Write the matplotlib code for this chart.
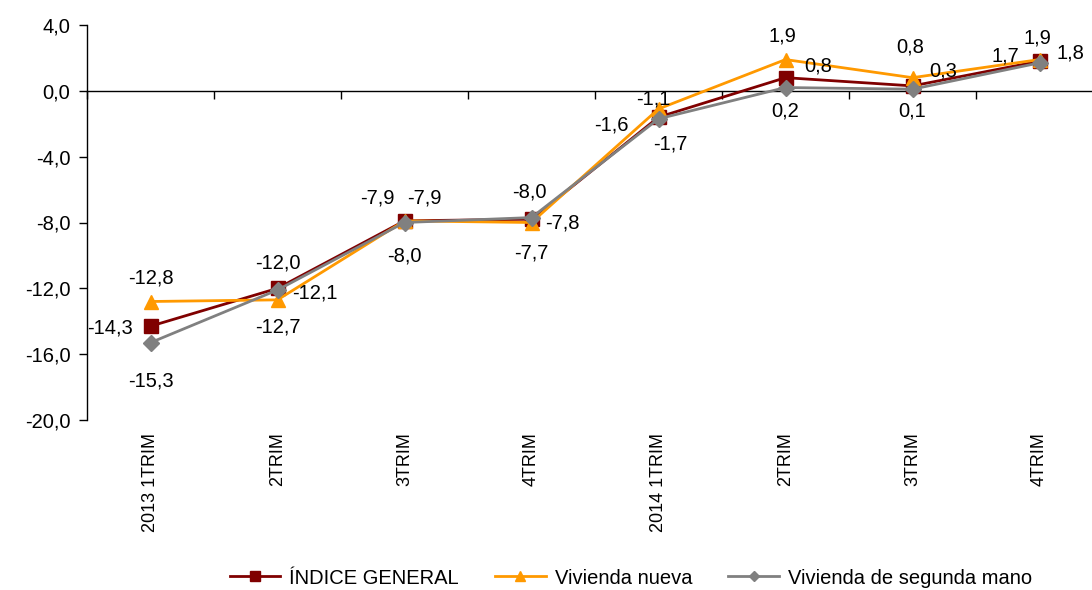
import matplotlib
matplotlib.use("Agg")
import matplotlib.pyplot as plt
import numpy as np

plt.rcParams['font.family'] = ['Liberation Sans', 'DejaVu Sans']

categories = ["2013 1TRIM", "2TRIM", "3TRIM", "4TRIM", "2014 1TRIM", "2TRIM", "3TRIM", "4TRIM"]
indice_general = [-14.3, -12.0, -7.9, -7.8, -1.6, 0.8, 0.3, 1.8]
vivienda_nueva = [-12.8, -12.7, -7.9, -8.0, -1.1, 1.9, 0.8, 1.9]
vivienda_segunda = [-15.3, -12.1, -8.0, -7.7, -1.7, 0.2, 0.1, 1.7]

series_names = ["ÍNDICE GENERAL", "Vivienda nueva", "Vivienda de segunda mano"]

# label offsets in pixels (dx, dy) - layout only
off_general = [(-40, -2), (0, 25), (-27, 23), (31, -4), (-47, -8), (33, 12), (31, 15), (31, 8)]
off_nueva = [(0, 24), (0, -27), (20, 23), (-2, 30), (-5, 10), (-3, 24), (-2, 31), (-2, 22)]
off_segunda = [(0, -38), (37, -3), (0, -33), (0, -35), (12, -25), (0, -23), (0, -22), (-34, 7)]

W, H = 1092, 590
fig = plt.figure(figsize=(W / 100, H / 100), dpi=100)
ax = fig.add_axes([87 / W, 1 - 420 / H, (1103 - 87) / W, (420 - 25) / H])

x = np.arange(len(categories))
styles = [
    (indice_general, "#800000", "s", 10, off_general),
    (vivienda_nueva, "#FF9900", "^", 10.5, off_nueva),
    (vivienda_segunda, "#808080", "D", 8, off_segunda),
]
handles = []
for (vals, col, mk, ms, offs), name in zip(styles, series_names):
    h, = ax.plot(x, vals, color=col, marker=mk, markersize=ms, lw=2,
                 markeredgecolor=col, label=name, zorder=3)
    handles.append(h)
for (vals, col, mk, ms, offs) in styles:
    for xi, v, (dx, dy) in zip(x, vals, offs):
        ax.annotate(f"{v:.1f}".replace(".", ","), (xi, v), xytext=(dx, dy),
                    textcoords="offset pixels", ha="center", va="center",
                    fontsize=14.5, color="black", zorder=5)

ax.set_xlim(-0.5, len(categories) - 0.5)
ax.set_ylim(-20, 4)
yt = np.arange(-20, 4.1, 4)
ax.set_yticks(yt)
ax.set_yticklabels([f"{t:.1f}".replace(".", ",") for t in yt], fontsize=14.5)
ax.tick_params(axis='y', direction='out', length=6, width=1, pad=6)

for s in ['top', 'right']:
    ax.spines[s].set_visible(False)
ax.spines['bottom'].set_position(('data', 0))
ax.spines['bottom'].set_linewidth(1)
ax.spines['left'].set_linewidth(1)

ax.set_xticks(x)
ax.set_xticklabels(categories, rotation=90, fontsize=13, va='top', ha='center')
ax.tick_params(axis='x', which='major', length=0, pad=246)
ax.set_xticks(np.arange(-0.5, len(categories) + 0.5, 1), minor=True)
ax.tick_params(axis='x', which='minor', direction='out', length=6, width=1)

leg = fig.legend(handles=handles, loc='center', bbox_to_anchor=(631 / W, 1 - 578 / H),
                 ncol=3, frameon=False, fontsize=14.5, handlelength=2.5,
                 handletextpad=0.45, columnspacing=1.8, markerscale=0.65,
                 borderaxespad=0, borderpad=0)

fig.savefig("out.png", dpi=100)
